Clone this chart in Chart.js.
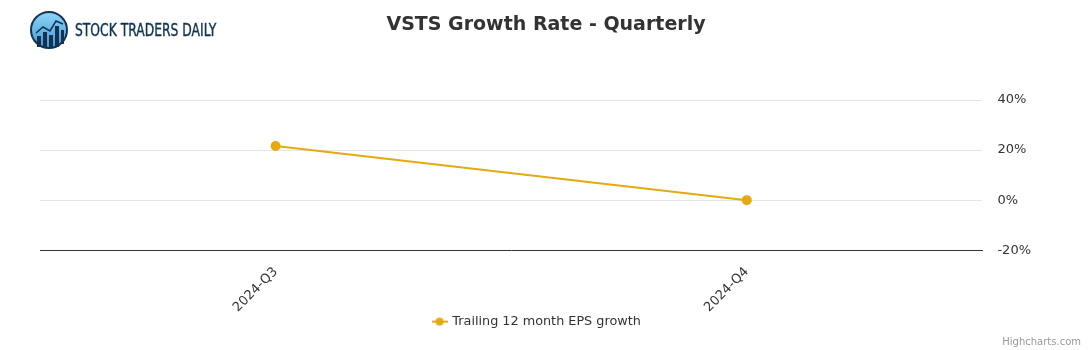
<!DOCTYPE html>
<html>
<head>
<meta charset="utf-8">
<script src="https://cdn.jsdelivr.net/npm/chart.js@4"></script>
<style>
    html, body { margin: 0; padding: 0; background: #fff; }
    #wrap { position: relative; width: 1091px; height: 350px; font-family: 'DejaVu Sans', sans-serif; }
    #chart { position: absolute; left: 0; top: 0; }
    #title { position: absolute; left: 0; width: 1092px; top: 12px; text-align: center; font-size: 19px; font-weight: bold; color: #333; }
    #logo { position: absolute; left: 30px; top: 10px; }
    #logoText { position: absolute; left: 75px; top: 19px; font-family: 'DejaVu Sans Condensed', 'Liberation Sans Narrow', sans-serif; font-size: 18px; color: #0f3352; -webkit-text-stroke: 0.4px #0f3352; white-space: nowrap; transform-origin: left top; }
    #credit { position: absolute; right: 10px; top: 336px; font-size: 10px; color: #999; }
</style>
</head>
<body>
<div id="wrap">
    <canvas id="chart" width="1091" height="350"></canvas>
    <div id="title">VSTS Growth Rate - Quarterly</div>
    <svg id="logo" width="40" height="40" viewBox="0 0 40 40">
        <defs>
            <linearGradient id="g" x1="0" y1="0" x2="0" y2="1">
                <stop offset="0" stop-color="#8fd4f8"/>
                <stop offset="1" stop-color="#3d9ad6"/>
            </linearGradient>
        </defs>
        <circle cx="19" cy="20" r="18" fill="url(#g)" stroke="#16324f" stroke-width="2"/>
        <rect x="7" y="26" width="4" height="11" fill="#16324f"/>
        <rect x="13" y="22" width="4" height="15" fill="#16324f"/>
        <rect x="19" y="25" width="4" height="12" fill="#16324f"/>
        <rect x="25" y="16" width="4" height="21" fill="#16324f"/>
        <rect x="31" y="20" width="3" height="14" fill="#16324f"/>
        <polyline points="6,23 13,17 20,21 26,11 33,14" fill="none" stroke="#16324f" stroke-width="1.5"/>
    </svg>
    <div id="logoText">STOCK TRADERS DAILY</div>
    <div id="credit">Highcharts.com</div>
</div>
<script>
const categories = ['2024-Q3', '2024-Q4'];
const epsGrowth = [21.6, 0.0];
const yTicks = [-20, 0, 20, 40];

const lineColor = '#e3ab11';

// legend symbol: short line with a dot, like the original
function legendSymbol() {
    const c = document.createElement('canvas');
    c.width = 16; c.height = 10;
    const g = c.getContext('2d');
    g.strokeStyle = lineColor;
    g.lineWidth = 2;
    g.beginPath();
    g.moveTo(0, 5); g.lineTo(16, 5);
    g.stroke();
    g.fillStyle = lineColor;
    g.beginPath();
    g.arc(8, 5, 4, 0, Math.PI * 2);
    g.fill();
    return c;
}

// squeeze the logo text to its width
const lt = document.getElementById('logoText');
lt.style.transform = 'scaleX(' + (141 / lt.offsetWidth) + ')';

// nudge the legend a little to the left, as in the original
const legendShift = {
    id: 'legendShift',
    afterLayout(chart) {
        chart.legend.left -= 6;
        chart.legend.right -= 6;
    }
};

const ctx = document.getElementById('chart').getContext('2d');
new Chart(ctx, {
    type: 'line',
    data: {
        labels: categories,
        datasets: [{
            label: 'Trailing 12 month EPS growth',
            data: epsGrowth,
            borderColor: lineColor,
            backgroundColor: lineColor,
            borderWidth: 2,
            pointRadius: 4,
            pointHoverRadius: 5,
            pointStyle: 'circle',
            tension: 0
        }]
    },
    plugins: [legendShift],
    options: {
        responsive: false,
        animation: false,
        layout: {
            padding: { top: 100, left: 40, right: 45, bottom: 12 }
        },
        plugins: {
            title: { display: false },
            tooltip: { enabled: false },
            legend: {
                position: 'bottom',
                labels: {
                    usePointStyle: true,
                    color: '#333',
                    padding: 2,
                    font: { family: "'DejaVu Sans', sans-serif", size: 12.8 },
                    generateLabels: function(chart) {
                        return chart.data.datasets.map((ds, i) => ({
                            text: ds.label,
                            pointStyle: legendSymbol(),
                            fontColor: '#333',
                            strokeStyle: lineColor,
                            fillStyle: lineColor,
                            lineWidth: 0,
                            datasetIndex: i
                        }));
                    }
                }
            }
        },
        scales: {
            x: {
                offset: true,
                grid: { display: false, drawTicks: false },
                border: { display: true, color: '#333', width: 1 },
                ticks: {
                    color: '#333',
                    padding: 14,
                    minRotation: 45,
                    maxRotation: 45,
                    font: { family: "'DejaVu Sans', sans-serif", size: 13 }
                },
                afterFit: function(axis) {
                    axis.height = 63;
                }
            },
            y: {
                position: 'right',
                min: -20,
                max: 40,
                afterBuildTicks: function(axis) {
                    axis.ticks = yTicks.map(v => ({ value: v }));
                },
                grid: { color: '#e6e6e6', drawTicks: false },
                border: { display: false },
                ticks: {
                    color: '#333',
                    padding: 15,
                    font: { family: "'DejaVu Sans', sans-serif", size: 13 },
                    callback: v => v + '%'
                }
            }
        }
    }
});
</script>
</body>
</html>
